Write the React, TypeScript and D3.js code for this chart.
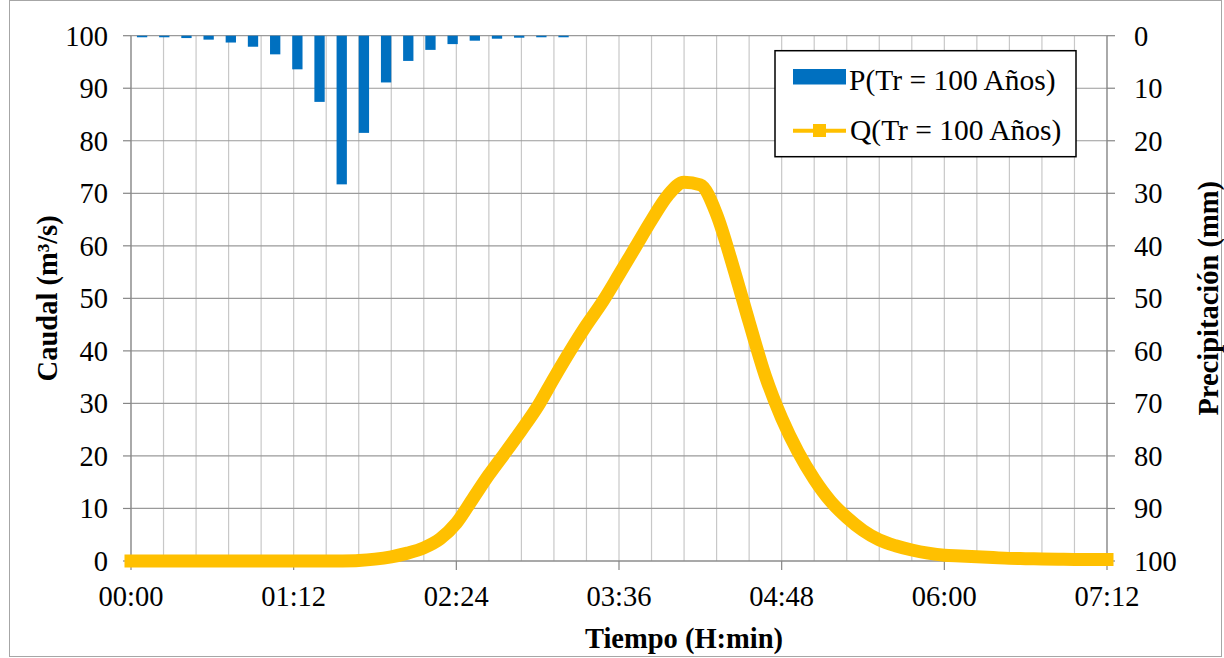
import React from "react";
import * as d3 from "d3";

// ---- data ----
const timeMin = [0, 7.2, 14.4, 21.6, 28.8, 36, 43.2, 50.4, 57.6, 64.8, 72, 79.2, 86.4, 93.6, 100.8, 108, 115.2, 122.4, 129.6, 136.8, 144, 151.2, 158.4, 165.6, 172.8, 180, 187.2, 194.4, 201.6, 208.8, 216, 223.2, 230.4, 237.6, 244.8, 252, 259.2, 266.4, 273.6, 280.8, 288, 295.2, 302.4, 309.6, 316.8, 324, 331.2, 338.4, 345.6, 352.8, 360, 367.2, 374.4, 381.6, 388.8, 396, 403.2, 410.4, 417.6, 424.8, 432];
const caudal = [0, 0, 0, 0, 0, 0, 0, 0, 0, 0, 0, 0, 0, 0.02, 0.1, 0.35, 0.8, 1.5, 2.5, 4.2, 7.2, 11.8, 16.4, 20.6, 24.9, 29.4, 34.8, 40.0, 44.9, 49.4, 54.5, 59.7, 64.9, 69.6, 72.1, 71.6, 66.0, 56.2, 45.5, 35.2, 27.2, 20.8, 15.6, 11.4, 8.3, 5.8, 4.0, 2.9, 2.1, 1.5, 1.1, 0.95, 0.8, 0.65, 0.5, 0.45, 0.4, 0.35, 0.3, 0.3, 0.3];
const precipitacion = [0.3, 0.3, 0.45, 0.75, 1.3, 2.1, 3.55, 6.4, 12.6, 28.3, 18.5, 8.9, 4.8, 2.7, 1.6, 0.95, 0.57, 0.38, 0.3, 0.3];
const precipSlots = 44;
const xTickMinutes = [0, 72, 144, 216, 288, 360, 432];
const xGridMinutes = d3.range(0, 432.001, 14.4);
const yTicks = [0, 10, 20, 30, 40, 50, 60, 70, 80, 90, 100];
const legendLabels = ["P(Tr = 100 Años)", "Q(Tr = 100 Años)"];

const BLUE = "#0070C0";
const GOLD = "#FFC000";
const FONT = "'Liberation Serif', 'Times New Roman', serif";

function fmt(m: number) {
  const h = Math.floor(m / 60);
  const mm = Math.round(m - h * 60);
  return `${String(h).padStart(2, "0")}:${String(mm).padStart(2, "0")}`;
}

export default function App() {
  const W = 1224, H = 658;
  const L = 131, R = 1107, T = 35.7, B = 561;
  const x = d3.scaleLinear().domain([0, 432]).range([L, R]);
  const yQ = d3.scaleLinear().domain([0, 100]).range([B, T]);
  const yP = d3.scaleLinear().domain([0, 100]).range([T, B]);
  const band = d3.scaleBand<number>().domain(d3.range(precipSlots)).range([L, R]).paddingInner(0.535).paddingOuter(0.2675);

  const line = d3.line<number>().x((_, i) => x(timeMin[i])).y((d) => yQ(d)).curve(d3.curveMonotoneX);
  const fs = 28.5;

  return (
    <svg width={W} height={H} style={{ position: "absolute", left: 0, top: 0, background: "#fff" }} fontFamily={FONT}>
      <rect x={0} y={0} width={W} height={H} fill="#fff" />
      <rect x={9.5} y={0.5} width={1212} height={656} fill="none" stroke="#a6a6a6" strokeWidth={1} />
      {xGridMinutes.map((m, i) => (
        <line key={"vg" + i} x1={x(m)} x2={x(m)} y1={T} y2={B} stroke="#c8c8c8" strokeWidth={1.2} />
      ))}
      {yTicks.map((v) => (
        <line key={"hg" + v} x1={L} x2={R} y1={yQ(v)} y2={yQ(v)} stroke="#9a9a9a" strokeWidth={1.2} />
      ))}
      <line x1={L} x2={L} y1={T} y2={B} stroke="#868686" strokeWidth={1.2} />
      <line x1={R} x2={R} y1={T} y2={B} stroke="#868686" strokeWidth={1.2} />
      <line x1={L} x2={R} y1={B} y2={B} stroke="#868686" strokeWidth={1.2} />
      {yTicks.map((v) => (
        <g key={"yt" + v}>
          <line x1={L - 8} x2={L} y1={yQ(v)} y2={yQ(v)} stroke="#868686" strokeWidth={1.2} />
          <text x={108} y={yQ(v)} dy="0.35em" textAnchor="end" fontSize={fs} fill="#000">{v}</text>
          <line x1={R} x2={R + 8} y1={yP(v)} y2={yP(v)} stroke="#868686" strokeWidth={1.2} />
          <text x={1134} y={yP(v)} dy="0.35em" textAnchor="start" fontSize={fs} fill="#000">{v}</text>
        </g>
      ))}
      {xTickMinutes.map((m) => (
        <g key={"xt" + m}>
          <line x1={x(m)} x2={x(m)} y1={B} y2={B + 9} stroke="#868686" strokeWidth={1.2} />
          <text x={x(m)} y={606} textAnchor="middle" fontSize={fs} fill="#000">{fmt(m)}</text>
        </g>
      ))}
      {precipitacion.map((v, i) => (
        <rect key={"b" + i} x={band(i)} y={yP(0)} width={band.bandwidth()} height={yP(v) - yP(0)} fill={BLUE} />
      ))}
      <path d={line(caudal) || ""} fill="none" stroke={GOLD} strokeWidth={13} strokeLinecap="square" strokeLinejoin="round" />
      <text x={684} y={648} textAnchor="middle" fontSize={fs} fontWeight="bold" fill="#000">Tiempo (H:min)</text>
      <text transform={`translate(57,${(T + B) / 2}) rotate(-90)`} textAnchor="middle" fontSize={fs} fontWeight="bold" fill="#000">Caudal (m³/s)</text>
      <text transform={`translate(1218,${(T + B) / 2}) rotate(-90)`} textAnchor="middle" fontSize={fs} fontWeight="bold" fill="#000">Precipitación (mm)</text>
      <rect x={775} y={50.7} width={301} height={106} fill="#fff" stroke="#000" strokeWidth={1.5} />
      <rect x={793} y={69} width={53} height={15.5} fill={BLUE} />
      <text x={849} y={90} fontSize={29.5} fill="#000">{legendLabels[0]}</text>
      <line x1={793} x2={846} y1={130.7} y2={130.7} stroke={GOLD} strokeWidth={4} />
      <rect x={813} y={124} width={13} height={13} fill={GOLD} />
      <text x={850} y={140} fontSize={29.5} fill="#000">{legendLabels[1]}</text>
    </svg>
  );
}
